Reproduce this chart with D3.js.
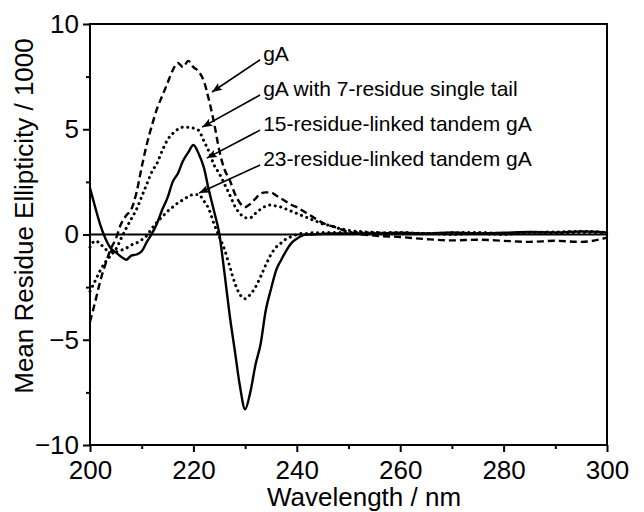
<!DOCTYPE html>
<html>
<head>
<meta charset="utf-8">
<script src="https://cdn.jsdelivr.net/npm/d3@7"></script>
<style>
  body { margin: 0; background: #fff; }
  text { font-family: "Liberation Sans", Arial, sans-serif; fill: #000; }
</style>
</head>
<body>
<div id="chart-area"></div>
<script>
// wavelengths (nm)
var wavelengths = [200,201,202,203,204,205,206,207,208,209,210,211,212,213,214,215,216,217,218,219,
	220,221,222,223,224,225,226,227,228,229,230,231,232,233,234,235,236,237,238,239,
	240,241,242,243,244,245,246,247,248,249,250,255,260,265,270,275,280,285,290,295,300];

// mean residue ellipticity / 1000
var gA = [-4.15,-3.2,-2.2,-1.4,-0.7,-0.2,0.5,0.9,1.2,2.0,3.2,4.3,5.2,6.0,6.6,7.2,7.8,8.15,7.95,8.25,
	7.95,7.75,7.3,6.4,5.3,4.0,3.1,2.6,1.95,1.5,1.3,1.45,1.7,1.95,2.0,2.0,1.85,1.7,1.55,1.4,
	1.3,1.15,1.0,0.85,0.7,0.55,0.45,0.38,0.3,0.2,0.12,-0.05,-0.12,-0.22,-0.28,-0.25,-0.3,-0.35,-0.3,-0.35,-0.15];

var gATail = [-2.7,-2.2,-1.7,-1.3,-1.0,-0.7,-0.2,0.3,0.75,1.2,1.8,2.4,3.0,3.4,4.0,4.5,4.8,5.0,5.1,5.1,
	5.05,4.95,4.45,3.95,3.3,2.9,2.4,1.9,1.35,1.0,0.8,0.8,1.0,1.2,1.35,1.4,1.35,1.3,1.2,1.1,
	1.0,0.9,0.8,0.7,0.6,0.5,0.45,0.38,0.3,0.25,0.2,0.1,0.05,0.05,0.0,0.05,0.0,0.1,0.05,0.1,0.05];

var tandem15 = [2.2,1.3,0.45,-0.2,-0.65,-0.85,-1.05,-1.2,-1.0,-0.95,-0.8,-0.35,0.05,0.55,1.2,1.75,2.5,2.9,3.5,3.9,
	4.25,3.85,3.2,2.1,1.1,0.05,-1.8,-3.8,-5.5,-7.2,-8.3,-7.5,-6.2,-5.2,-3.6,-2.6,-1.7,-1.2,-0.75,-0.4,
	-0.2,-0.05,0.0,0.0,0.02,0.03,0.04,0.05,0.05,0.05,0.05,0.05,0.08,0.05,0.1,0.05,0.08,0.12,0.1,0.15,0.1];

var tandem23 = [-0.6,-0.3,-0.45,-0.7,-0.8,-0.82,-0.75,-0.65,-0.5,-0.4,-0.25,-0.05,0.3,0.6,0.85,1.1,1.3,1.5,1.65,1.8,
	1.9,1.9,1.6,1.2,0.5,-0.1,-0.7,-1.5,-2.3,-2.85,-3.05,-2.85,-2.5,-2.0,-1.45,-0.95,-0.6,-0.4,-0.2,-0.1,
	0.0,0.05,0.05,0.08,0.08,0.1,0.1,0.1,0.1,0.1,0.1,0.08,0.1,0.05,0.08,0.1,0.05,0.1,0.12,0.15,0.1];

var labels = ["gA", "gA with 7-residue single tail", "15-residue-linked tandem gA", "23-residue-linked tandem gA"];
// arrow heads point at the curves (wavelength, value)
var arrowHeads = [[223.6, 6.77], [221.7, 5.1], [222.6, 3.63], [221.1, 1.97]];
var labelValues = [8.3, 6.63, 4.96, 3.3];

var xTicks = [200, 220, 240, 260, 280, 300];
var yTicks = [-10, -5, 0, 5, 10];

var margin = {left: 90, right: 37, top: 24, bottom: 67};
var width = 644 - margin.left - margin.right,
	height = 512 - margin.top - margin.bottom;

var svg = d3.select("#chart-area")
	.append("svg")
		.attr("width", 644)
		.attr("height", 512);

var g = svg.append("g")
	.attr("transform", "translate(" + margin.left + "," + margin.top + ")");

var x = d3.scaleLinear().domain([200, 300]).range([0, width]);
var y = d3.scaleLinear().domain([-10, 10]).range([height, 0]);

// minor ticks
g.append("g")
	.attr("transform", "translate(0," + height + ")")
	.call(d3.axisBottom(x).tickValues([210, 230, 250, 270, 290]).tickSize(4).tickFormat(""))
	.call(a => a.select(".domain").remove())
	.selectAll("line").attr("stroke-width", 2);
g.append("g")
	.call(d3.axisLeft(y).tickValues([-7.5, -2.5, 2.5, 7.5]).tickSize(4).tickFormat(""))
	.call(a => a.select(".domain").remove())
	.selectAll("line").attr("stroke-width", 2);

// major ticks
var xAxis = g.append("g")
	.attr("transform", "translate(0," + height + ")")
	.call(d3.axisBottom(x).tickValues(xTicks).tickSize(7).tickSizeOuter(0));
var yAxis = g.append("g")
	.call(d3.axisLeft(y).tickValues(yTicks).tickSize(7).tickSizeOuter(0));

[xAxis, yAxis].forEach(function(a) {
	a.select(".domain").remove();
	a.selectAll("line").attr("stroke-width", 2);
	a.selectAll("text").attr("font-size", "26px").attr("font-family", "Liberation Sans, Arial, sans-serif");
});
xAxis.selectAll("text").attr("dy", "0.95em").attr("y", 9);
yAxis.selectAll("text").attr("x", -11);

// frame
g.append("rect")
	.attr("width", width)
	.attr("height", height)
	.attr("fill", "none")
	.attr("stroke", "#000")
	.attr("stroke-width", 2);

// zero line
g.append("line")
	.attr("x1", 0).attr("x2", width)
	.attr("y1", y(0)).attr("y2", y(0))
	.attr("stroke", "#000")
	.attr("stroke-width", 2);

var line = d3.line()
	.x((d, i) => x(wavelengths[i]))
	.y(d => y(d))
	.curve(d3.curveMonotoneX);

var series = [
	{values: gA, dash: "7,4", w: 2.4, cap: "butt"},
	{values: gATail, dash: "0.1,5.5", w: 3, cap: "round"},
	{values: tandem15, dash: null, w: 2.4, cap: "butt"},
	{values: tandem23, dash: "0.1,5.5", w: 3, cap: "round"}
];

series.forEach(function(s) {
	g.append("path")
		.datum(s.values)
		.attr("d", line)
		.attr("fill", "none")
		.attr("stroke", "#000")
		.attr("stroke-width", s.w)
		.attr("stroke-linecap", s.cap)
		.attr("stroke-dasharray", s.dash);
});

// arrows and labels
svg.append("defs").append("marker")
	.attr("id", "head")
	.attr("viewBox", "0 0 10 10")
	.attr("refX", 10).attr("refY", 5)
	.attr("markerWidth", 10).attr("markerHeight", 10)
	.attr("markerUnits", "userSpaceOnUse")
	.attr("orient", "auto")
	.append("path")
		.attr("d", "M0,1 L10,5 L0,9 L2,5 Z")
		.attr("fill", "#000");

labels.forEach(function(t, i) {
	g.append("line")
		.attr("x1", x(232.9)).attr("y1", y(labelValues[i]))
		.attr("x2", x(arrowHeads[i][0])).attr("y2", y(arrowHeads[i][1]))
		.attr("stroke", "#000")
		.attr("stroke-width", 1.6)
		.attr("marker-end", "url(#head)");
	g.append("text")
		.attr("x", x(233.5))
		.attr("y", y(labelValues[i]) + 1)
		.attr("font-size", "21px")
		.text(t);
});

// axis titles
svg.append("text")
	.attr("x", 364)
	.attr("y", 506)
	.attr("font-size", "26px")
	.attr("text-anchor", "middle")
	.text("Wavelength / nm");

svg.append("text")
	.attr("transform", "translate(33,216) rotate(-90)")
	.attr("font-size", "26px")
	.attr("text-anchor", "middle")
	.text("Mean Residue Ellipticity / 1000");
</script>
</body>
</html>
